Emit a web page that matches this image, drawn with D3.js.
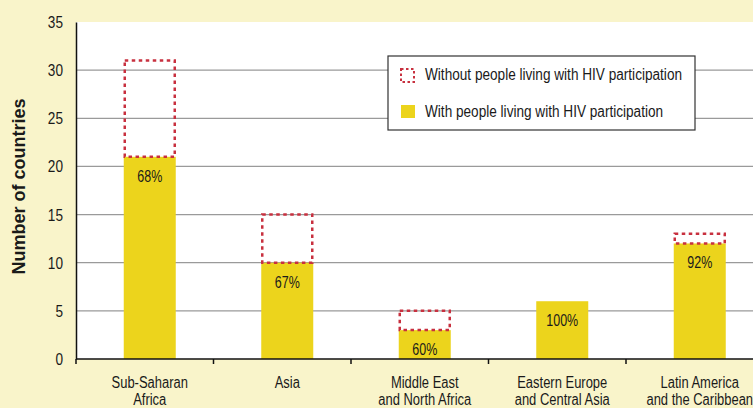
<!DOCTYPE html>
<html>
<head>
<meta charset="utf-8">
<title>Countries by region</title>
<script src="https://d3js.org/d3.v7.min.js"></script>
<style>
  body { margin: 0; padding: 0; background: #F9F4CA; }
  svg { display: block; }
  text { font-family: "Liberation Sans", Arial, sans-serif; fill: #1a1a1a; }
</style>
</head>
<body>
<div id="chart"></div>
<script>
// data
const regions = [
  ["Sub-Saharan", "Africa"],
  ["Asia"],
  ["Middle East", "and North Africa"],
  ["Eastern Europe", "and Central Asia"],
  ["Latin America", "and the Caribbean"]
];
const withPLHIV = [21, 10, 3, 6, 12];
const withoutPLHIV = [10, 5, 2, 0, 1];
const pctLabels = ["68%", "67%", "60%", "100%", "92%"];
const yTicks = [0, 5, 10, 15, 20, 25, 30, 35];

const width = 753, height = 408;
const mLeft = 76, mTop = 22, mBottom = 359;

// squeeze text horizontally (no narrow font available)
function narrow(sel, k) {
  sel.each(function() {
    const len = this.getComputedTextLength();
    d3.select(this).attr("textLength", len * k).attr("lengthAdjust", "spacingAndGlyphs");
  });
}

const svg = d3.select("#chart").append("svg")
  .attr("width", width)
  .attr("height", height);

svg.append("rect").attr("width", width).attr("height", height).attr("fill", "#F9F4CA");

const idx = regions.map((d, i) => i);
const x = d3.scaleBand().domain(idx).range([mLeft, mLeft + 137.5 * 5]).padding(0);
const y = d3.scaleLinear().domain([0, 35]).range([mBottom, mTop]);

// plot area
svg.append("rect")
  .attr("x", mLeft).attr("y", mTop)
  .attr("width", width - mLeft).attr("height", mBottom - mTop)
  .attr("fill", "#fff");

// gridlines
svg.selectAll(".grid")
  .data(yTicks.filter(t => t > 0 && t < 35))
  .join("line")
  .attr("x1", mLeft).attr("x2", width)
  .attr("y1", d => y(d)).attr("y2", d => y(d))
  .attr("stroke", "#9a9a9a").attr("stroke-width", 1.2);

const barW = 52, shift = 5;
const cx = i => x(i) + x.bandwidth() / 2 + shift;

// with PLHIV (yellow)
svg.selectAll(".with")
  .data(withPLHIV)
  .join("rect")
  .attr("x", (d, i) => cx(i) - barW / 2)
  .attr("y", d => y(d))
  .attr("width", barW)
  .attr("height", d => y(0) - y(d))
  .attr("fill", "#ECD41C");

// without PLHIV (dotted outline)
const stacked = withoutPLHIV.map((v, i) => ({ i, lo: withPLHIV[i], hi: withPLHIV[i] + v }))
  .filter(d => d.hi > d.lo);
svg.selectAll(".without")
  .data(stacked)
  .join("rect")
  .attr("x", d => cx(d.i) - barW / 2 + 1)
  .attr("y", d => y(d.hi))
  .attr("width", barW - 2)
  .attr("height", d => y(d.lo) - y(d.hi))
  .attr("fill", "none")
  .attr("stroke", "#C8303F")
  .attr("stroke-width", 2.5)
  .attr("stroke-dasharray", "3.5,3.5");

// percent labels
svg.selectAll(".pct")
  .data(pctLabels)
  .join("text")
  .attr("x", (d, i) => cx(i))
  .attr("y", (d, i) => y(withPLHIV[i]) + 25)
  .attr("text-anchor", "middle")
  .attr("font-size", 16)
  .text(d => d)
  .call(narrow, 0.78);

// axes
const yAxis = d3.axisLeft(y).tickValues(yTicks).tickSize(0).tickPadding(13);
svg.append("g")
  .attr("transform", `translate(${mLeft},0)`)
  .call(yAxis)
  .call(g => g.select(".domain").attr("stroke", "#111").attr("stroke-width", 1.5))
  .call(g => g.selectAll("text").attr("font-size", 17).attr("font-family", null)
    .attr("fill", "#1a1a1a").call(narrow, 0.8));

svg.append("line")
  .attr("x1", mLeft).attr("x2", width)
  .attr("y1", mBottom).attr("y2", mBottom)
  .attr("stroke", "#111").attr("stroke-width", 1.5);

svg.selectAll(".xtick")
  .data(idx)
  .join("line")
  .attr("x1", d => x(d)).attr("x2", d => x(d))
  .attr("y1", mBottom).attr("y2", mBottom + 5)
  .attr("stroke", "#111").attr("stroke-width", 1.5);

const xLines = regions.flatMap((d, i) => d.map((s, j) => ({ s, i, j })));
svg.selectAll(".xlab")
  .data(xLines)
  .join("text")
  .attr("x", d => cx(d.i))
  .attr("y", d => 388 + d.j * 17)
  .attr("text-anchor", "middle")
  .attr("font-size", 16)
  .text(d => d.s)
  .call(narrow, 0.81);

// y title
svg.append("text")
  .attr("transform", `translate(25,186.5) rotate(-90)`)
  .attr("text-anchor", "middle")
  .attr("font-size", 18)
  .attr("font-weight", "bold")
  .text("Number of countries");

// legend
const lg = svg.append("g").attr("transform", "translate(388,56)");
lg.append("rect").attr("width", 307).attr("height", 74)
  .attr("fill", "#fff").attr("stroke", "#333").attr("stroke-width", 1.2);
lg.append("rect").attr("x", 13).attr("y", 13).attr("width", 13).attr("height", 13)
  .attr("fill", "none").attr("stroke", "#C8303F").attr("stroke-width", 2)
  .attr("stroke-dasharray", "2.5,2.5");
lg.append("rect").attr("x", 13).attr("y", 49).attr("width", 14).attr("height", 13)
  .attr("fill", "#ECD41C");
lg.append("text").attr("x", 37).attr("y", 24).attr("font-size", 16)
  .text("Without people living with HIV participation").call(narrow, 0.85);
lg.append("text").attr("x", 37).attr("y", 61).attr("font-size", 16)
  .text("With people living with HIV participation").call(narrow, 0.85);
</script>
</body>
</html>
